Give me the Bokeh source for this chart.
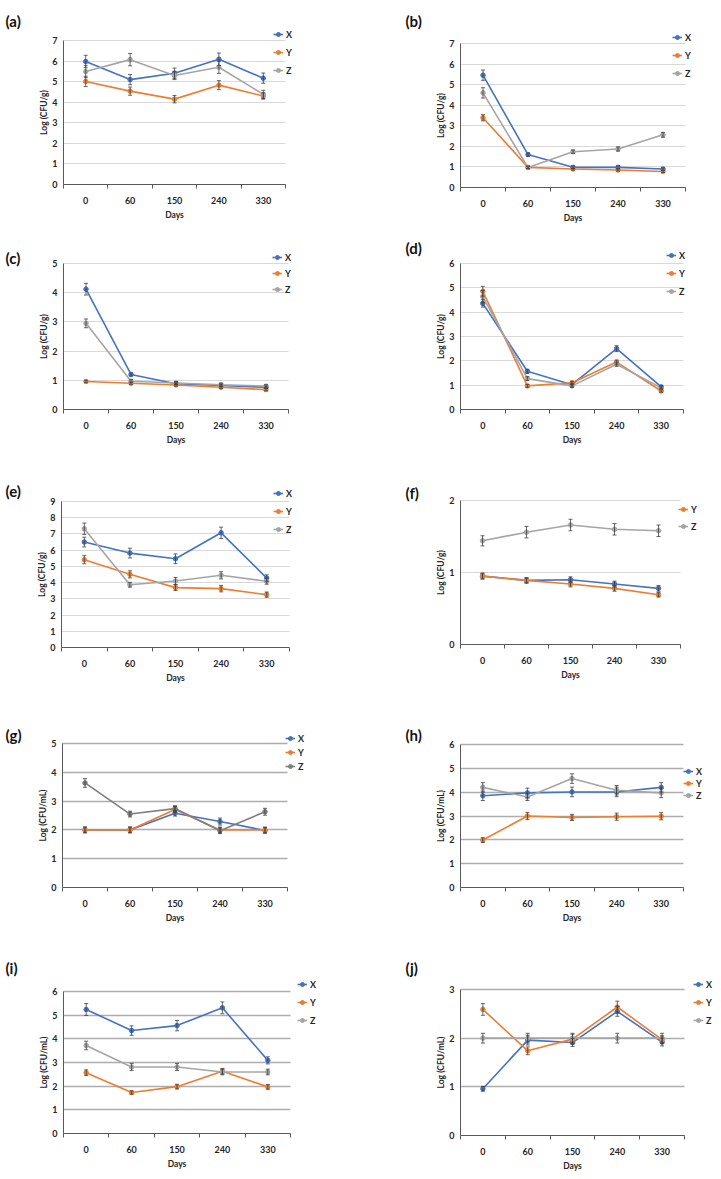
from bokeh.plotting import figure
from bokeh.models import (Range1d, FixedTicker, Legend, LegendItem, Label,
                          Whisker, ColumnDataSource, TeeHead)
from bokeh.layouts import column, row
from bokeh.embed import file_html
from bokeh.resources import INLINE

days = ["0", "60", "150", "240", "330"]
series_names = ["X", "Y", "Z"]

# ---- panel (a) ----
a_X = [5.98, 5.10, 5.41, 6.09, 5.17]
a_Y = [5.01, 4.54, 4.15, 4.83, 4.30]
a_Z = [5.49, 6.07, 5.30, 5.70, 4.38]
a_Xe = [0.30, 0.25, 0.25, 0.30, 0.25]
a_Ye = [0.25, 0.20, 0.18, 0.22, 0.15]
a_Ze = [0.30, 0.30, 0.20, 0.30, 0.20]
# ---- panel (b) ----
b_X = [5.46, 1.60, 0.98, 0.98, 0.90]
b_Y = [3.39, 0.98, 0.90, 0.85, 0.78]
b_Z = [4.60, 0.97, 1.74, 1.87, 2.56]
b_Xe = [0.25, 0.08, 0.06, 0.06, 0.06]
b_Ye = [0.15, 0.06, 0.05, 0.05, 0.05]
b_Ze = [0.25, 0.06, 0.08, 0.10, 0.12]
# ---- panel (c) ----
c_X = [4.12, 1.20, 0.88, 0.82, 0.76]
c_Y = [0.96, 0.90, 0.84, 0.76, 0.68]
c_Z = [2.95, 0.97, 0.91, 0.85, 0.80]
c_Xe = [0.20, 0.05, 0.04, 0.04, 0.04]
c_Ye = [0.04, 0.04, 0.04, 0.04, 0.04]
c_Ze = [0.15, 0.05, 0.05, 0.05, 0.05]
# ---- panel (d) ----
d_X = [4.36, 1.57, 1.02, 2.50, 0.93]
d_Y = [4.86, 0.97, 1.10, 1.95, 0.76]
d_Z = [4.64, 1.27, 0.97, 1.86, 0.89]
d_Xe = [0.15, 0.08, 0.06, 0.12, 0.05]
d_Ye = [0.20, 0.06, 0.06, 0.08, 0.05]
d_Ze = [0.25, 0.08, 0.06, 0.08, 0.05]
# ---- panel (e) ----
e_X = [6.50, 5.82, 5.47, 7.07, 4.28]
e_Y = [5.41, 4.51, 3.69, 3.63, 3.26]
e_Z = [7.32, 3.87, 4.10, 4.45, 4.08]
e_Xe = [0.30, 0.30, 0.30, 0.35, 0.20]
e_Ye = [0.25, 0.22, 0.18, 0.20, 0.16]
e_Ze = [0.35, 0.15, 0.22, 0.22, 0.18]
# ---- panel (f) ----
f_X = [0.95, 0.89, 0.90, 0.84, 0.78]
f_Y = [0.95, 0.89, 0.84, 0.78, 0.69]
f_Z = [1.44, 1.56, 1.66, 1.60, 1.58]
f_Xe = [0.04, 0.04, 0.04, 0.04, 0.04]
f_Ye = [0.04, 0.03, 0.04, 0.04, 0.03]
f_Ze = [0.07, 0.08, 0.08, 0.08, 0.08]
# ---- panel (g) ----
g_X = [2.00, 2.00, 2.58, 2.29, 1.98]
g_Y = [2.00, 2.00, 2.71, 2.00, 2.00]
g_Z = [3.63, 2.55, 2.74, 1.97, 2.63]
g_Xe = [0.10, 0.10, 0.10, 0.12, 0.10]
g_Ye = [0.10, 0.10, 0.10, 0.10, 0.10]
g_Ze = [0.15, 0.10, 0.10, 0.10, 0.12]
# ---- panel (h) ----
h_X = [3.85, 3.97, 4.01, 4.01, 4.20]
h_Y = [1.99, 3.00, 2.94, 2.97, 2.99]
h_Z = [4.20, 3.80, 4.57, 4.08, 3.97]
h_Xe = [0.20, 0.20, 0.20, 0.20, 0.20]
h_Ye = [0.10, 0.15, 0.13, 0.15, 0.15]
h_Ze = [0.20, 0.15, 0.20, 0.20, 0.20]
# ---- panel (i) ----
i_X = [5.24, 4.35, 4.56, 5.31, 3.09]
i_Y = [2.57, 1.73, 1.98, 2.63, 1.97]
i_Z = [3.72, 2.81, 2.81, 2.60, 2.60]
i_Xe = [0.25, 0.20, 0.22, 0.25, 0.15]
i_Ye = [0.12, 0.07, 0.10, 0.12, 0.10]
i_Ze = [0.18, 0.15, 0.15, 0.12, 0.12]
# ---- panel (j) ----
j_X = [0.96, 1.96, 1.91, 2.55, 1.92]
j_Y = [2.59, 1.74, 1.98, 2.64, 1.97]
j_Z = [2.00, 2.00, 2.00, 2.00, 2.00]
j_Xe = [0.05, 0.10, 0.08, 0.10, 0.08]
j_Ye = [0.12, 0.08, 0.10, 0.12, 0.08]
j_Ze = [0.10, 0.10, 0.10, 0.10, 0.10]

# ---------------- styling / geometry ----------------
FONT = "Lato"
TXT = "#262626"
AX = "#595959"
C_X, C_Y, C_Z, C_Z_DARK = "#4472C4", "#ED7D31", "#A5A5A5", "#7F7F7F"
GRID_LIGHT = ("#D9D9D9", 1.0)
GRID_DARK = ("#ADADAD", 1.6)
ITEM_H = 12
LEG_DY = 2          # small empirical correction of the legend anchor
TAG_DY = 2          # visual centre of "(a)" sits a little above its box centre

# page coordinates (as in the reference image)
# fig: (x0, y0, w, h); plot: (left, top, right, bottom) of the axes box;
# tag: (x, y_center); legend: (glyph_x, first_y, pitch)
GEO = {
    "a": dict(fig=(0, 0, 360, 232), plot=(63, 40, 285, 184), tag=(5, 18), leg=(273, 33, 17.5)),
    "b": dict(fig=(360, 0, 353, 232), plot=(460, 43, 685, 187), tag=(405, 18), leg=(672, 35, 18)),
    "c": dict(fig=(0, 232, 360, 230), plot=(63, 263, 288, 409), tag=(5, 255), leg=(272, 254, 16.5)),
    "d": dict(fig=(360, 232, 353, 230), plot=(460, 263, 683, 409), tag=(405, 245), leg=(666, 254, 17.5)),
    "e": dict(fig=(0, 462, 360, 238), plot=(61, 501, 289, 647), tag=(5, 488), leg=(273, 492, 17.5)),
    "f": dict(fig=(360, 462, 353, 238), plot=(460, 500, 680, 644), tag=(405, 490), leg=(678, 507, 17)),
    "g": dict(fig=(0, 700, 360, 240), plot=(62, 743, 287, 887), tag=(5, 732), leg=(285, 736, 14)),
    "h": dict(fig=(360, 700, 353, 240), plot=(460, 744, 683, 887), tag=(405, 732), leg=(683, 768, 12.5)),
    "i": dict(fig=(0, 940, 360, 233), plot=(63, 991, 290, 1133), tag=(5, 965), leg=(297, 982, 18)),
    "j": dict(fig=(360, 940, 353, 233), plot=(460, 989, 684, 1135), tag=(405, 965), leg=(693, 982, 18)),
}


def make_panel(tag, ylabel, ymax, vals, errs, legend_keys, z_color, grid):
    g = GEO[tag]
    fx, fy, fw, fh = g["fig"]
    L, T, R, B = g["plot"]
    gx, gy0, pitch = g["leg"]
    tx, ty = g["tag"]
    n = len(days)
    xs = list(range(n))

    # the frame fills the whole figure; axes are pinned at the plot-box edges
    ppx = (R - L) / n
    ppy = (B - T) / ymax
    x0 = -0.5 - (L - fx) / ppx
    x1 = -0.5 + (fx + fw - L) / ppx
    y0 = -(fy + fh - B) / ppy
    y1 = (B - fy) / ppy

    p = figure(width=fw, height=fh,
               x_range=Range1d(x0, x1), y_range=Range1d(y0, y1),
               output_backend="svg", toolbar_location=None,
               min_border_left=0, min_border_right=0,
               min_border_top=0, min_border_bottom=0)
    p.outline_line_color = None
    p.background_fill_color = "white"
    p.border_fill_color = "white"

    # x axis: category labels, tick marks between categories
    xa = p.xaxis[0]
    xa.fixed_location = 0
    xa.bounds = (-0.5, n - 0.5)
    xa.ticker = FixedTicker(ticks=xs, minor_ticks=[k - 0.5 for k in range(n + 1)])
    xa.major_label_overrides = {k: d for k, d in zip(xs, days)}
    xa.major_tick_line_color = None
    xa.major_tick_out = 0
    xa.major_tick_in = 0
    xa.minor_tick_out = 4
    xa.minor_tick_in = 0
    xa.minor_tick_line_color = AX
    xa.axis_line_color = AX
    xa.major_label_standoff = 8
    xa.major_label_text_font = FONT
    xa.major_label_text_font_style = "bold"
    xa.major_label_text_font_size = "9px"
    xa.major_label_text_color = TXT
    xa.axis_label = "Days"
    xa.axis_label_text_font = FONT
    xa.axis_label_text_font_style = "bold"
    xa.axis_label_text_font_size = "8.5px"
    xa.axis_label_text_color = TXT
    xa.axis_label_standoff = 3

    ya = p.yaxis[0]
    ya.fixed_location = -0.5
    ya.bounds = (0, ymax)
    ya.ticker = FixedTicker(ticks=list(range(0, ymax + 1)))
    ya.major_tick_line_color = None
    ya.major_tick_out = 0
    ya.major_tick_in = 0
    ya.minor_tick_line_color = None
    ya.axis_line_color = AX
    ya.major_label_standoff = 6
    ya.major_label_text_font = FONT
    ya.major_label_text_font_style = "bold"
    ya.major_label_text_font_size = "9px"
    ya.major_label_text_color = TXT
    ya.axis_label = ylabel
    ya.axis_label_text_font = FONT
    ya.axis_label_text_font_style = "bold"
    ya.axis_label_text_font_size = "8.5px"
    ya.axis_label_text_color = TXT
    ya.axis_label_standoff = 0

    # horizontal grid lines, limited to the category span
    p.xgrid.grid_line_color = None
    grid_ticks = list(range(1, ymax + 1))
    yg = p.ygrid[0]
    if "cross_bounds" in yg.properties():
        yg.ticker = FixedTicker(ticks=grid_ticks)
        yg.bounds = (0, ymax)
        yg.cross_bounds = (-0.5, n - 0.5)
        yg.grid_line_color = grid[0]
        yg.grid_line_width = grid[1]
    else:
        yg.grid_line_color = None
        p.segment(x0=[-0.5] * len(grid_ticks), x1=[n - 0.5] * len(grid_ticks),
                  y0=grid_ticks, y1=grid_ticks, line_color=grid[0],
                  line_width=grid[1], level="underlay")

    colors = {"X": C_X, "Y": C_Y, "Z": z_color}
    rends = {}
    for name in series_names:
        v = vals[name]
        e = errs[name]
        ln = p.line(xs, v, line_color=colors[name], line_width=1.6)
        sc = p.scatter(xs, v, marker="circle", size=4.5, fill_color=colors[name],
                       line_color=colors[name])
        rends[name] = [ln, sc]
        src = ColumnDataSource(dict(x=xs,
                                    lo=[a - b for a, b in zip(v, e)],
                                    hi=[a + b for a, b in zip(v, e)]))
        w = Whisker(base="x", lower="lo", upper="hi", source=src,
                    line_color="#404040", line_width=0.8, level="overlay",
                    upper_head=TeeHead(size=4, line_color="#404040", line_width=0.8),
                    lower_head=TeeHead(size=4, line_color="#404040", line_width=0.8))
        p.add_layout(w)

    k = len(legend_keys)
    height = k * ITEM_H + (k - 1) * (pitch - ITEM_H)
    top = gy0 - ITEM_H / 2
    legend = Legend(items=[LegendItem(label=nm, renderers=rends[nm]) for nm in legend_keys],
                    location=(gx - fx, (fy + fh) - (top + height) - LEG_DY),
                    orientation="vertical", padding=0, margin=0,
                    spacing=int(round(pitch - ITEM_H)),
                    glyph_width=10, glyph_height=ITEM_H, label_height=ITEM_H,
                    label_standoff=3, label_text_font=FONT,
                    label_text_font_style="bold", label_text_font_size="9px",
                    label_text_color=TXT, background_fill_alpha=0,
                    border_line_color=None)
    p.add_layout(legend)

    p.add_layout(Label(x=tx - fx, y=(fy + fh) - ty - TAG_DY, x_units="screen", y_units="screen",
                       text="(" + tag + ")", text_font=FONT, text_font_style="bold",
                       text_font_size="15px", text_color="#111111",
                       text_baseline="middle", text_align="left"))
    return p


def pack(X, Y, Z, Xe, Ye, Ze):
    return {"X": X, "Y": Y, "Z": Z}, {"X": Xe, "Y": Ye, "Z": Ze}


G_UNIT = "Log (CFU/g)"
ML_UNIT = "Log (CFU/mL)"
pa = make_panel("a", G_UNIT, 7, *pack(a_X, a_Y, a_Z, a_Xe, a_Ye, a_Ze), ["X", "Y", "Z"], C_Z, GRID_LIGHT)
pb = make_panel("b", G_UNIT, 7, *pack(b_X, b_Y, b_Z, b_Xe, b_Ye, b_Ze), ["X", "Y", "Z"], C_Z, GRID_LIGHT)
pc = make_panel("c", G_UNIT, 5, *pack(c_X, c_Y, c_Z, c_Xe, c_Ye, c_Ze), ["X", "Y", "Z"], C_Z, GRID_LIGHT)
pd = make_panel("d", G_UNIT, 6, *pack(d_X, d_Y, d_Z, d_Xe, d_Ye, d_Ze), ["X", "Y", "Z"], C_Z, GRID_LIGHT)
pe = make_panel("e", G_UNIT, 9, *pack(e_X, e_Y, e_Z, e_Xe, e_Ye, e_Ze), ["X", "Y", "Z"], C_Z, GRID_LIGHT)
pf = make_panel("f", G_UNIT, 2, *pack(f_X, f_Y, f_Z, f_Xe, f_Ye, f_Ze), ["Y", "Z"], C_Z, GRID_LIGHT)
pg = make_panel("g", ML_UNIT, 5, *pack(g_X, g_Y, g_Z, g_Xe, g_Ye, g_Ze), ["X", "Y", "Z"], C_Z_DARK, GRID_DARK)
ph = make_panel("h", ML_UNIT, 6, *pack(h_X, h_Y, h_Z, h_Xe, h_Ye, h_Ze), ["X", "Y", "Z"], C_Z, GRID_DARK)
pi = make_panel("i", ML_UNIT, 6, *pack(i_X, i_Y, i_Z, i_Xe, i_Ye, i_Ze), ["X", "Y", "Z"], C_Z, GRID_DARK)
pj = make_panel("j", ML_UNIT, 3, *pack(j_X, j_Y, j_Z, j_Xe, j_Ye, j_Ze), ["X", "Y", "Z"], C_Z, GRID_DARK)

layout = column(row(pa, pb), row(pc, pd), row(pe, pf), row(pg, ph), row(pi, pj))
open("out.html", "w").write(file_html(layout, INLINE))
